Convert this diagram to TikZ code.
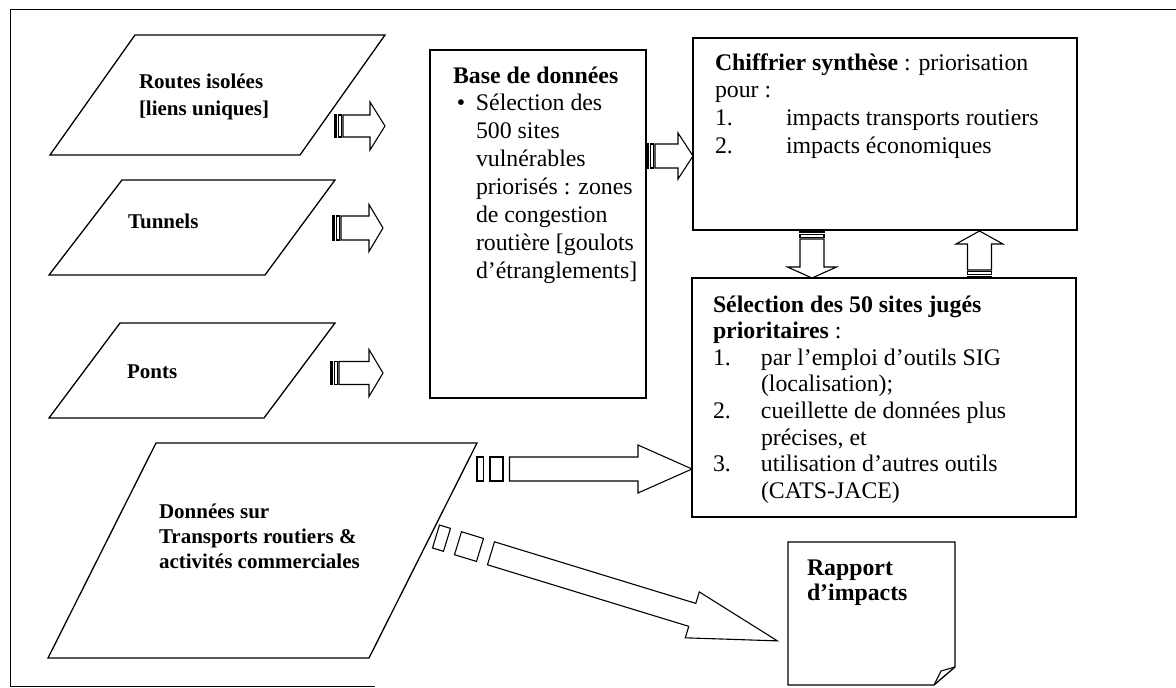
\documentclass[tikz,border=0pt]{standalone}
\usepackage{fontspec}
\setmainfont{Liberation Serif}
\usepackage{array}
\newcommand\mainfs{\fontsize{23.8}{27.9}\selectfont}
\newcommand\selfs{\fontsize{23.8}{26.6}\selectfont}
\newcommand\rapfs{\fontsize{23.8}{25}\selectfont\bfseries}
\newcommand\lblfs{\fontsize{21}{27}\selectfont\bfseries}
\newcommand\datfs{\fontsize{21}{25}\selectfont\bfseries}
% striped block arrow: #1 origin, #2 angle, #3 stripe unit,
% #4 head start, #5 tip, #6 body half width, #7 head half width
\newcommand\striparrow[7]{%
  \begin{scope}[shift={#1}, rotate=#2]
    \draw[arrowline] (0,-#6) rectangle (#3,#6);
    \draw[arrowline] ({2*#3},-#6) rectangle ({4*#3},#6);
    \draw[arrowline] ({5*#3},-#6) -- (#4,-#6) -- (#4,-#7) -- (#5,0)
      -- (#4,#7) -- (#4,#6) -- ({5*#3},#6) -- cycle;
  \end{scope}}
\begin{document}
\begin{tikzpicture}[x=1pt,y=-1pt,
  outline/.style={draw=black, line width=1.3pt, line join=miter},
  arrowline/.style={draw=black, line width=1.1pt, line join=miter, fill=white},
  boxnode/.style={draw=black, line width=1.3pt, inner sep=0pt, outer sep=0pt, anchor=north west},
  txt/.style={inner sep=0pt, outer sep=0pt, anchor=base west}]
\useasboundingbox (0,0) rectangle (1176,688);
\fill[white] (0,0) rectangle (1176,688);

% outer frame
\draw[line width=1pt] (1176,9) -- (10,9) -- (10,686) -- (375,686);

% input parallelograms
\draw[outline] (135,35) -- (385,35) -- (300,155) -- (50,155) -- cycle;
\draw[outline] (122,180) -- (335,180) -- (265,275) -- (49,275) -- cycle;
\draw[outline] (120,323) -- (335,323) -- (264,418) -- (49,418) -- cycle;
\draw[outline] (156,443) -- (477,443) -- (369,658) -- (48,658) -- cycle;

\node[txt, font=\lblfs] (routes) at (139,88)
  {\begin{tabular}[t]{@{}l@{}}Routes isolées\\{}[liens uniques]\end{tabular}};
\node[txt, font=\lblfs] (tunnels) at (128,228) {Tunnels};
\node[txt, font=\lblfs] (ponts) at (127,378) {Ponts};
\node[txt, font=\datfs] (donnees) at (159,518)
  {\begin{tabular}[t]{@{}l@{}}Données sur\\Transports routiers \&\\activités commerciales\end{tabular}};

% rectangular boxes
\node[boxnode, minimum width=216pt, minimum height=348pt] (base) at (430,50) {};
\node[boxnode, minimum width=384pt, minimum height=192pt] (chif) at (693,38) {};
\node[boxnode, minimum width=384pt, minimum height=239pt] (sel) at (692,278) {};

\node[txt, font=\mainfs] (basetxt) at (453,83)
  {\begin{tabular}[t]{@{}p{23pt}@{}l@{}}
   \multicolumn{2}{@{}l@{}}{\bfseries Base de données}\\
   \,•& Sélection des\\
   & 500 sites\\
   & vulnérables\\
   & priorisés : zones\\
   & de congestion\\
   & routière [goulots\\
   & d’étranglements]
  \end{tabular}};

\node[txt, font=\mainfs] (chiftxt) at (715,70)
  {\begin{tabular}[t]{@{}p{71pt}@{}l@{}}
   \multicolumn{2}{@{}l@{}}{\textbf{Chiffrier synthèse} : priorisation}\\
   \multicolumn{2}{@{}l@{}}{pour :}\\
   1. & impacts transports routiers\\
   2. & impacts économiques
  \end{tabular}};

\node[txt, font=\selfs] (seltxt) at (713,312)
  {\begin{tabular}[t]{@{}p{48pt}@{}l@{}}
   \multicolumn{2}{@{}l@{}}{\bfseries Sélection des 50 sites jugés}\\
   \multicolumn{2}{@{}l@{}}{\textbf{prioritaires} :}\\
   1. & par l’emploi d’outils SIG\\
   & (localisation);\\
   2. & cueillette de données plus\\
   & précises, et\\
   3. & utilisation d’autres outils\\
   & (CATS-JACE)
  \end{tabular}};

% report document with folded corner
\draw[outline] (788,542) -- (955,542) -- (955,667) -- (934,685) -- (788,685) -- cycle;
\draw[line width=1.1pt] (934,685) -- (941,671) -- (955,667);
\node[txt, font=\rapfs] (rapport) at (807,575)
  {\begin{tabular}[t]{@{}l@{}}Rapport\\d’impacts\end{tabular}};

% block arrows
\striparrow{(335,126)}{0}{1.6}{35}{50}{11}{24}
\striparrow{(333,228)}{0}{1.6}{36}{50}{12}{23.5}
\striparrow{(331,373)}{0}{1.6}{38}{52}{11.5}{23.5}
\striparrow{(647,156)}{0}{1.6}{31}{46}{12}{23}
\striparrow{(812,231)}{-90}{1.6}{36}{47}{12}{24.5}
\striparrow{(979.5,278)}{90}{1.6}{34}{47}{12}{23.5}
\striparrow{(477,469)}{0}{6.5}{161}{215}{12}{24}
\striparrow{(436,536.5)}{-17}{11.5}{268}{357}{12}{24}
\end{tikzpicture}
\end{document}
